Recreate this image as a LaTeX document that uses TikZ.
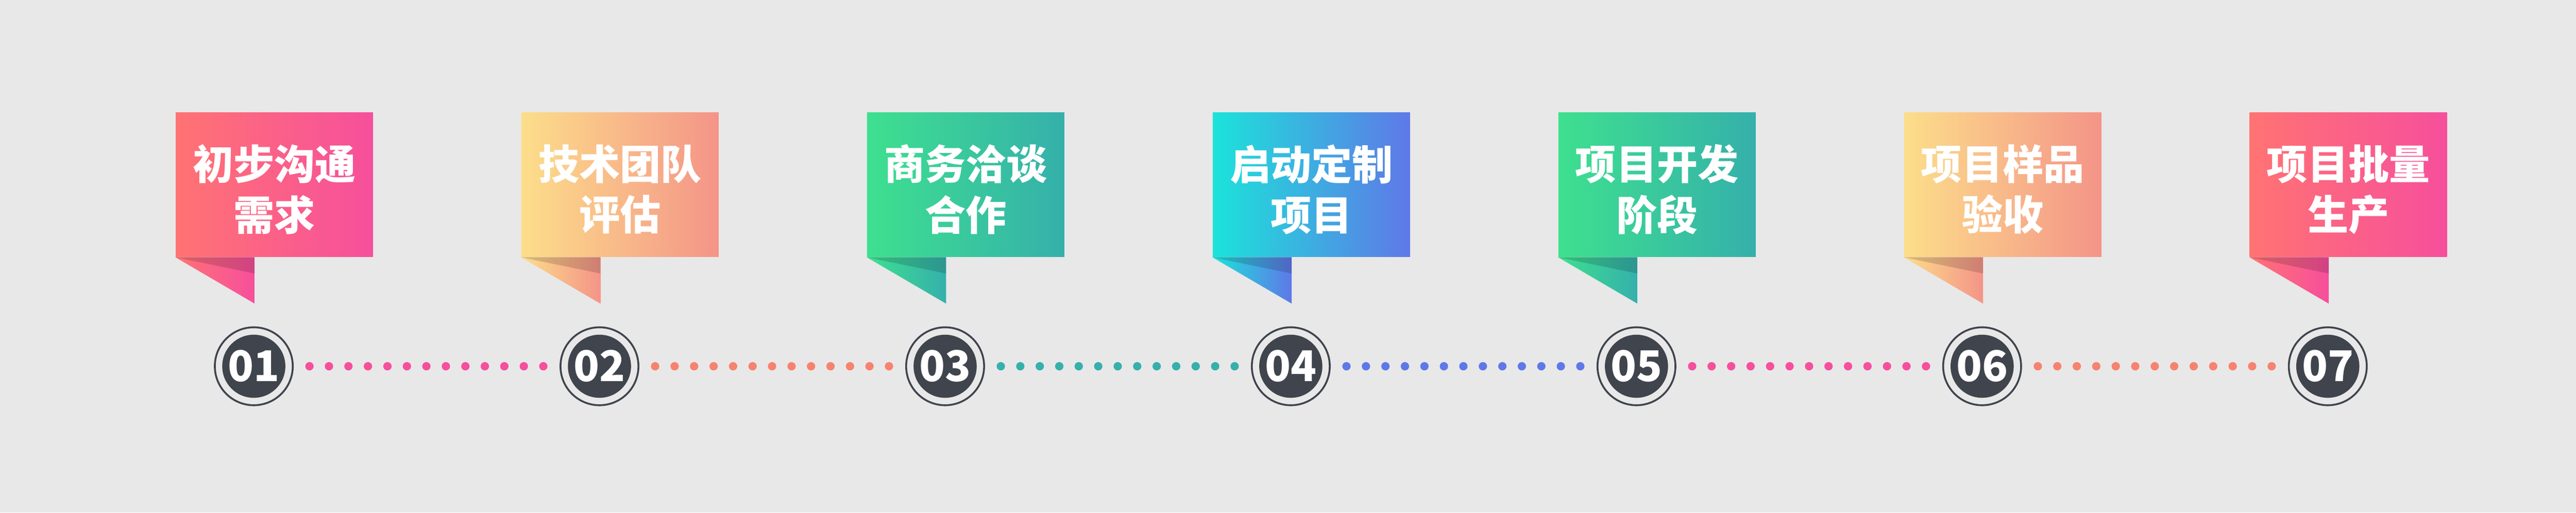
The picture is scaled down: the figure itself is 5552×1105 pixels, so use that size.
\documentclass[tikz,border=0pt]{standalone}
\usepackage{fontspec}
\newfontfamily\cjk{Noto Sans CJK SC}
\usetikzlibrary{calc}
\definecolor{bg gray}{HTML}{E8E8E8}
\definecolor{ring dark}{HTML}{3F444D}
\definecolor{rose a}{HTML}{FF7373}
\definecolor{rose b}{HTML}{F64F9C}
\definecolor{sun a}{HTML}{FCDE8A}
\definecolor{sun b}{HTML}{F49488}
\definecolor{mint a}{HTML}{3EE08F}
\definecolor{mint b}{HTML}{35B0AB}
\definecolor{sky a}{HTML}{1BE3DA}
\definecolor{sky b}{HTML}{5F78E8}
\definecolor{dot salmon}{HTML}{F6836F}
\tikzset{
  flagbox/.style={minimum width=4.25cm, minimum height=3.11cm, inner sep=0pt},
  flagtext/.style={text=white, font=\cjk\bfseries\fontsize{25pt}{31pt}\selectfont, align=center},
  numdisc/.style={circle, fill=ring dark, minimum size=1.36cm, inner sep=0pt,
    text=white, font=\cjk\bfseries\fontsize{26pt}{30pt}\selectfont},
  numring/.style={draw=ring dark, line width=0.04cm},
}
\begin{document}
\begin{tikzpicture}[x=0.01cm, y=-0.01cm]
  % background
  \fill[bg gray] (0,0) rectangle (5552,1105);
  \useasboundingbox (0,0) rectangle (5552,1105);
  % flags and numbers
  \foreach \i/\ca/\cb/\txt in {1/rose a/rose b/{初步沟通\\需求},
      2/sun a/sun b/{技术团队\\评估},
      3/mint a/mint b/{商务洽谈\\合作},
      4/sky a/sky b/{启动定制\\项目},
      5/mint a/mint b/{项目开发\\阶段},
      6/sun a/sun b/{项目样品\\验收},
      7/rose a/rose b/{项目批量\\生产}} {
    \pgfmathsetmacro{\fx}{378+(\i-1)*745}
    \node[flagbox, left color=\ca, right color=\cb, anchor=north west] (f\i) at (\fx,242) {};
    \node[flagtext] (t\i) at ($(f\i.center)+(0,10)$) {\txt};
    % tail with fold
    \coordinate (k\i) at ($(f\i.south west)+(171,0)$);
    \path[left color=\ca, right color=\cb] (f\i.south west) -- (k\i) -- ($(k\i)+(0,100)$) -- cycle;
    \fill[black, opacity=0.15] (f\i.south west) -- (k\i) -- ($(k\i)+(0,35)$) -- cycle;
    \node[numdisc] (n\i) at ($(k\i)+(-2,235)$) {0\i};
    \draw[numring] (n\i) circle (84);
  }
  % dotted links
  \foreach \i/\j/\dc in {1/2/rose b, 2/3/dot salmon, 3/4/mint b, 4/5/sky b, 5/6/rose b, 6/7/dot salmon} {
    \foreach \t in {0,...,12}
      \fill[\dc] ($(n\i)!{(120+\t*42)/745}!(n\j)$) circle (9);
  }
\end{tikzpicture}
\end{document}
